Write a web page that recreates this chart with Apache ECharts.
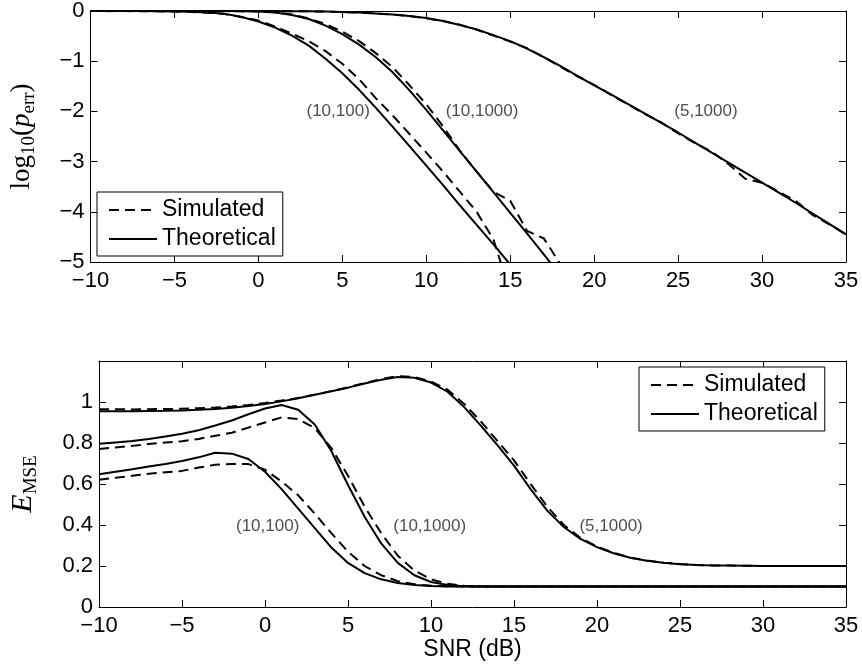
<!DOCTYPE html>
<html><head><meta charset="utf-8">
<script src="https://cdn.jsdelivr.net/npm/echarts/dist/echarts.min.js"></script>
<style>html,body{margin:0;padding:0;background:#fff}#c{width:862px;height:668px}</style>
</head><body><div id="c"></div>
<script>
// SNR (dB) grid shared by all curves
const snr = [-10,-9,-8,-7,-6,-5,-4,-3,-2,-1,0,1,2,3,4,5,6,7,8,9,10,11,12,13,14,15,16,17,18,19,20,21,22,23,24,25,26,27,28,29,30,31,32,33,34,35];

// Top panel: log10(p_err)
const perrTheo_10_100 = [0,0,0,-0.002,-0.005,-0.008,-0.015,-0.03,-0.055,-0.12,-0.21,-0.33,-0.49,-0.69,-0.95,-1.24,-1.57,-1.93,-2.31,-2.69,-3.08,-3.47,-3.87,-4.26,-4.65,-5.05];
const perrSim_10_100 = [0,-0.003,-0.002,-0.005,-0.006,-0.01,-0.02,-0.035,-0.06,-0.12,-0.19,-0.31,-0.45,-0.6,-0.8,-1.05,-1.36,-1.74,-2.08,-2.45,-2.82,-3.2,-3.6,-4.0,-4.55,-5.6];
const perrTheo_10_1000 = [0,0,0,0,0,0,0,0,-0.001,-0.003,-0.01,-0.03,-0.08,-0.16,-0.29,-0.46,-0.67,-0.92,-1.22,-1.58,-1.97,-2.38,-2.79,-3.2,-3.61,-4.02,-4.43,-4.85,-5.27];
const perrSim_10_1000 = [0,0,0,0,0,0,0,0,0,-0.003,-0.008,-0.025,-0.07,-0.15,-0.26,-0.41,-0.6,-0.84,-1.12,-1.48,-1.86,-2.3,-2.78,-3.2,-3.6,-3.78,-4.38,-4.53,-5.05];
const perrTheo_5_1000 = [0,0,0,0,0,0,0,0,0,0,0,-0.001,-0.003,-0.006,-0.012,-0.02,-0.032,-0.048,-0.07,-0.1,-0.14,-0.2,-0.28,-0.37,-0.48,-0.6,-0.75,-0.92,-1.1,-1.29,-1.48,-1.66,-1.85,-2.04,-2.23,-2.42,-2.62,-2.82,-3.02,-3.22,-3.42,-3.62,-3.82,-4.03,-4.24,-4.45];
const perrSim_5_1000 = [0,0,0,0,0,0,0,0,0,0,0,0,-0.003,-0.006,-0.012,-0.02,-0.03,-0.05,-0.07,-0.1,-0.145,-0.2,-0.275,-0.37,-0.49,-0.61,-0.74,-0.92,-1.11,-1.3,-1.47,-1.67,-1.86,-2.05,-2.22,-2.44,-2.63,-2.8,-3.05,-3.34,-3.42,-3.6,-3.78,-4.06,-4.25,-4.45];

// Bottom panel: E_MSE
const mseTheo_10_100 = [0.648,0.66,0.672,0.685,0.698,0.712,0.73,0.752,0.748,0.722,0.66,0.575,0.48,0.385,0.29,0.215,0.165,0.135,0.117,0.107,0.102,0.1,0.1,0.1,0.1,0.1,0.1,0.1,0.1,0.1,0.1,0.1,0.1,0.1,0.1,0.1,0.1,0.1,0.1,0.1,0.1,0.1,0.1,0.1,0.1,0.1];
const mseSim_10_100 = [0.621,0.63,0.64,0.65,0.657,0.664,0.68,0.694,0.698,0.697,0.67,0.612,0.545,0.455,0.36,0.27,0.2,0.155,0.126,0.111,0.104,0.101,0.1,0.1,0.1,0.1,0.1,0.1,0.1,0.1,0.1,0.1,0.1,0.1,0.1,0.1,0.1,0.1,0.1,0.1,0.1,0.1,0.1,0.1,0.1,0.1];
const mseTheo_10_1000 = [0.796,0.803,0.81,0.82,0.832,0.845,0.862,0.885,0.91,0.94,0.968,0.985,0.962,0.89,0.76,0.595,0.44,0.31,0.215,0.155,0.122,0.107,0.101,0.1,0.1,0.1,0.1,0.1,0.1,0.1,0.1,0.1,0.1,0.1,0.1,0.1,0.1,0.1,0.1,0.1,0.1,0.1,0.1,0.1,0.1,0.1];
const mseSim_10_1000 = [0.771,0.778,0.786,0.795,0.802,0.809,0.82,0.835,0.85,0.875,0.9,0.925,0.917,0.872,0.775,0.64,0.49,0.36,0.25,0.178,0.135,0.113,0.104,0.101,0.1,0.1,0.1,0.1,0.1,0.1,0.1,0.1,0.1,0.1,0.1,0.1,0.1,0.1,0.1,0.1,0.1,0.1,0.1,0.1,0.1,0.1];
const mseTheo_5_1000 = [0.955,0.955,0.955,0.956,0.957,0.959,0.962,0.966,0.972,0.98,0.99,1.003,1.018,1.035,1.052,1.07,1.09,1.108,1.122,1.118,1.095,1.05,0.975,0.885,0.79,0.69,0.575,0.47,0.39,0.332,0.292,0.262,0.24,0.226,0.216,0.209,0.205,0.203,0.202,0.201,0.2,0.2,0.2,0.2,0.2,0.2];
const mseSim_5_1000 = [0.965,0.965,0.964,0.965,0.966,0.967,0.97,0.973,0.978,0.985,0.995,1.007,1.02,1.036,1.053,1.072,1.092,1.112,1.126,1.122,1.1,1.06,0.99,0.905,0.81,0.715,0.6,0.49,0.4,0.338,0.295,0.264,0.241,0.227,0.216,0.21,0.205,0.203,0.202,0.201,0.2,0.2,0.2,0.2,0.2,0.2];

// Curve annotations
const topNotes = [{name:'(10,100)', value:[4.75,-2]}, {name:'(10,1000)', value:[13.32,-2]}, {name:'(5,1000)', value:[26.66,-2]}];
const botNotes = [{name:'(10,100)', value:[0.16,0.395]}, {name:'(10,1000)', value:[9.92,0.395]}, {name:'(5,1000)', value:[20.85,0.395]}];
const legendNames = ['Simulated','Theoretical'];

const FONT = 'Liberation Sans, Arial, Helvetica, sans-serif';
const SERIF = 'Liberation Serif, DejaVu Serif, serif';
const fmtNum = v => { const s = String(+(+v).toFixed(2)); return s.replace('-', '\u2212'); };

function xAxis(gi, pos, show) {
  return {type:'value', gridIndex:gi, position:pos, min:-10, max:35, interval:5,
    axisLine:{show:true, onZero:false, lineStyle:{color:'#000', width:1}},
    axisTick:{show:true, inside:true, length:7, lineStyle:{color:'#000'}},
    splitLine:{show:false},
    axisLabel:{show:show, color:'#000', fontSize:22, fontFamily:FONT, margin:8, formatter:fmtNum}};
}
function yAxis(gi, pos, show, min, max, interval, hideTop) {
  return {type:'value', gridIndex:gi, position:pos, min:min, max:max, interval:interval,
    axisLine:{show:true, onZero:false, lineStyle:{color:'#000', width:1}},
    axisTick:{show:true, inside:true, length:7, lineStyle:{color:'#000'}},
    splitLine:{show:false},
    axisLabel:{show:show, color:'#000', fontSize:22, fontFamily:FONT, margin:6,
      formatter: v => (hideTop && Math.abs(v - max) < 1e-9) ? '' : fmtNum(v)}};
}
function line(name, ys, xi, yi, dashed) {
  const data = [];
  ys.forEach((y, i) => { if (y != null) data.push([snr[i], y]); });
  return {type:'line', name:name, xAxisIndex:xi, yAxisIndex:yi, data:data, symbol:'none', clip:true,
    silent:true, animation:false, emphasis:{disabled:true},
    lineStyle:{color:'#000', width:2, type: dashed ? [10,6] : 'solid'}, itemStyle:{color:'#000'}};
}
function notes(data, xi, yi) {
  return {type:'scatter', name:'notes', xAxisIndex:xi, yAxisIndex:yi, data:data, symbolSize:1,
    itemStyle:{color:'rgba(0,0,0,0)'}, silent:true, animation:false,
    label:{show:true, position:'inside', formatter:'{b}', color:'#222', fontSize:17, fontFamily:FONT}};
}
function legend(left, top) {
  return {data:legendNames, orient:'vertical', left:left, top:top, itemWidth:48, itemHeight:14, itemGap:3,
    padding:[5,7,4,11], borderColor:'#000', borderWidth:1, backgroundColor:'#fff', selectedMode:false,
    itemStyle:{opacity:0},
    textStyle:{color:'#000', fontSize:23, fontFamily:FONT, lineHeight:26}};
}

const chart = echarts.init(document.getElementById('c'), null, {renderer:'canvas'});
chart.setOption({
  animation:false,
  backgroundColor:'#fff',
  grid:[{left:80, top:11, width:766, height:251}, {left:80, top:361, width:766, height:246}],
  legend:[legend(97,192), legend(639,367)],
  xAxis:[
    xAxis(0,'bottom',true), xAxis(0,'top',false),
    Object.assign(xAxis(1,'bottom',true), {name:'SNR (dB)', nameLocation:'middle', nameGap:30,
      nameTextStyle:{color:'#000', fontSize:23, fontFamily:FONT}}),
    xAxis(1,'top',false)
  ],
  yAxis:[
    Object.assign(yAxis(0,'left',true,-5,0,1,false), {name:'{m|log}{s|10}{m|(}{i|p}{s|err}{m|)}', nameLocation:'middle', nameGap:52, nameRotate:90,
      nameTextStyle:{rich:{
        m:{fontSize:27, fontFamily:SERIF, color:'#000', lineHeight:34, verticalAlign:'middle'},
        i:{fontSize:27, fontFamily:SERIF, fontStyle:'italic', color:'#000', lineHeight:34, verticalAlign:'middle'},
        s:{fontSize:19, fontFamily:SERIF, color:'#000', lineHeight:34, verticalAlign:'bottom'}}}}),
    yAxis(0,'right',false,-5,0,1,false),
    Object.assign(yAxis(1,'left',true,0,1.2,0.2,true), {name:'{i|E}{s|MSE}', nameLocation:'middle', nameGap:58, nameRotate:90,
      nameTextStyle:{rich:{
        i:{fontSize:30, fontFamily:SERIF, fontStyle:'italic', color:'#000', lineHeight:36, verticalAlign:'middle'},
        s:{fontSize:19, fontFamily:SERIF, color:'#000', lineHeight:36, verticalAlign:'bottom'}}}}),
    yAxis(1,'right',false,0,1.2,0.2,true)
  ],
  series:[
    line('Simulated', perrSim_10_100, 0, 0, true),
    line('Theoretical', perrTheo_10_100, 0, 0, false),
    line('Simulated', perrSim_10_1000, 0, 0, true),
    line('Theoretical', perrTheo_10_1000, 0, 0, false),
    line('Simulated', perrSim_5_1000, 0, 0, true),
    line('Theoretical', perrTheo_5_1000, 0, 0, false),
    line('Simulated', mseSim_10_100, 2, 2, true),
    line('Theoretical', mseTheo_10_100, 2, 2, false),
    line('Simulated', mseSim_10_1000, 2, 2, true),
    line('Theoretical', mseTheo_10_1000, 2, 2, false),
    line('Simulated', mseSim_5_1000, 2, 2, true),
    line('Theoretical', mseTheo_5_1000, 2, 2, false),
    notes(topNotes, 0, 0),
    notes(botNotes, 2, 2)
  ]
});
</script></body></html>
